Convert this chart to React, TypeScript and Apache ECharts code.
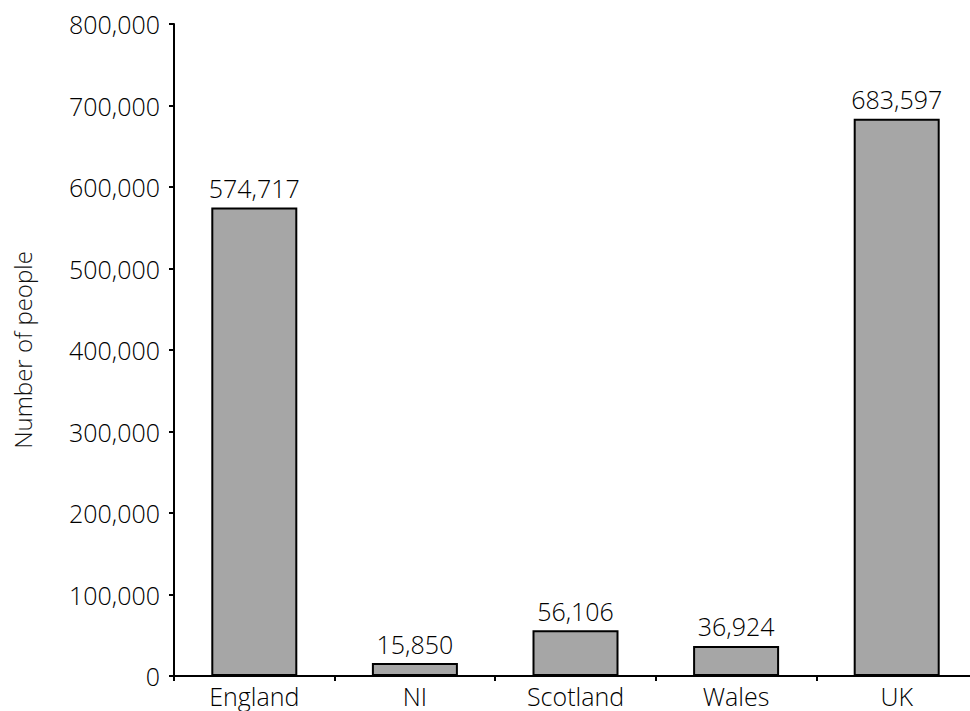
import React, { useEffect, useRef } from "react";
import * as echarts from "echarts";

const categories = ["England", "NI", "Scotland", "Wales", "UK"];
const people = [574717, 15850, 56106, 36924, 683597];
const yTicks = [0, 100000, 200000, 300000, 400000, 500000, 600000, 700000, 800000];

const FONT = "'Open Sans', sans-serif";
const WEIGHT = 300;
const fmt = (v: number) => v.toLocaleString("en-GB");

export default function App() {
  const ref = useRef<HTMLDivElement>(null);
  useEffect(() => {
    if (!ref.current) return;
    const chart = echarts.init(ref.current, undefined, { renderer: "svg" });
    chart.setOption({
      animation: false,
      backgroundColor: "#ffffff",
      grid: { left: 174, top: 24, right: 0, bottom: 35, containLabel: false },
      xAxis: {
        type: "category",
        data: categories,
        axisLine: { lineStyle: { color: "#000", width: 2 } },
        axisTick: { show: true, length: 5, inside: false, lineStyle: { color: "#000", width: 2 } },
        axisLabel: { color: "#000", fontFamily: FONT, fontWeight: WEIGHT, fontSize: 25, margin: 7 },
      },
      yAxis: {
        type: "value",
        min: yTicks[0],
        max: yTicks[yTicks.length - 1],
        interval: yTicks[1] - yTicks[0],
        name: "Number of people",
        nameLocation: "middle",
        nameGap: 140,
        nameTextStyle: { color: "#111", fontFamily: FONT, fontWeight: WEIGHT, fontSize: 24 },
        axisLine: { show: true, lineStyle: { color: "#000", width: 2 } },
        axisTick: { show: true, length: 5, lineStyle: { color: "#000", width: 2 } },
        axisLabel: { color: "#000", fontFamily: FONT, fontWeight: WEIGHT, fontSize: 25, margin: 14, formatter: (v: number) => fmt(v) },
        splitLine: { show: false },
      },
      series: [
        {
          type: "bar",
          data: people,
          barWidth: 86,
          itemStyle: { color: "#a6a6a6", borderColor: "#000", borderWidth: 2 },
          label: {
            show: true,
            position: "top",
            distance: 7,
            color: "#000",
            fontFamily: FONT,
            fontWeight: WEIGHT,
            fontSize: 25,
            formatter: (p: any) => fmt(p.value),
          },
        },
      ],
    });
    return () => chart.dispose();
  }, []);
  return (
    <div style={{ position: "fixed", left: 0, top: 0, width: 970, height: 711, overflow: "hidden", background: "#fff" }}>
      <div ref={ref} style={{ width: 977, height: 711 }} />
    </div>
  );
}
